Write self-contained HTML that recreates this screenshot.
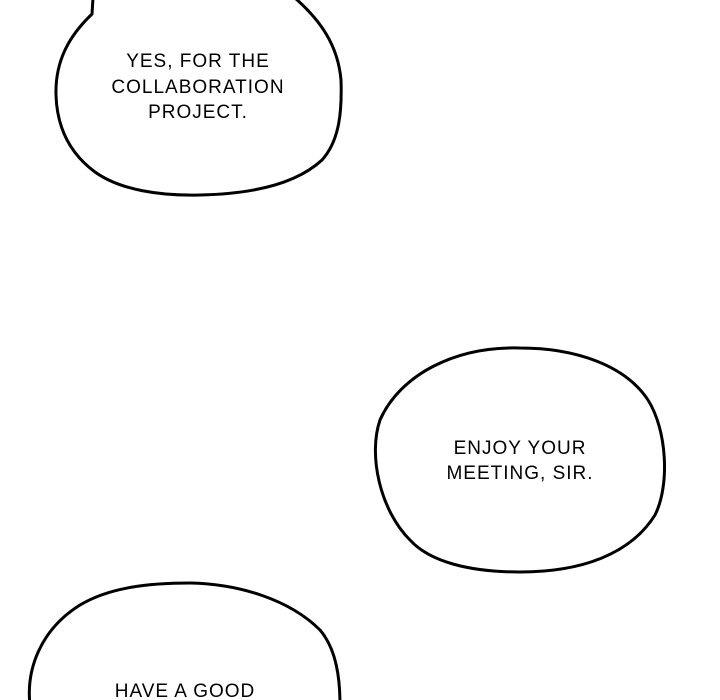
<!DOCTYPE html>
<html><head><style>
html,body{margin:0;padding:0;background:#fff;}
svg{display:block}
text{font-family:"Liberation Sans",sans-serif;font-size:19px;fill:#000;text-anchor:middle;letter-spacing:1px;}
</style></head><body>
<svg width="720" height="700" viewBox="0 0 720 700" xmlns="http://www.w3.org/2000/svg">
<rect width="720" height="700" fill="#fff"/>
<g fill="#fff" stroke="#000" stroke-width="3">
<path d="M93,-2 L92,14 C70,35 55,60 56,95 C57,130 72,155 95,172 C120,190 160,196 200,195 C250,194 295,185 322,160 C340,140 342,110 341,80 C338,45 320,20 295,-2"/>
<path d="M520,348 C455,346 400,375 380,420 C368,455 380,510 410,540 C430,562 470,572 520,572 C580,572 630,555 655,515 C670,485 667,430 648,400 C625,365 575,348 520,348 Z"/>
<path d="M30,705 C26,670 40,630 80,605 C110,587 150,583 190,583 C240,584 290,600 320,630 C337,650 340,680 340,705"/>
</g>
<text x="198" y="67">YES, FOR THE</text>
<text x="198" y="93">COLLABORATION</text>
<text x="198" y="118">PROJECT.</text>
<text x="520" y="454">ENJOY YOUR</text>
<text x="520" y="479">MEETING, SIR.</text>
<text x="185" y="697">HAVE A GOOD</text>
</svg>
</body></html>
